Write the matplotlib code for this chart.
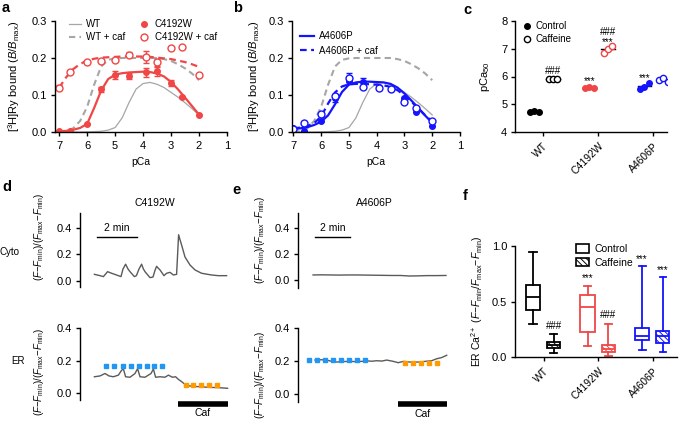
import numpy as np
import matplotlib
matplotlib.use('Agg')
import matplotlib.pyplot as plt
from matplotlib.lines import Line2D
from matplotlib.patches import Patch

plt.rcParams['font.family'] = ['Liberation Sans', 'DejaVu Sans']
plt.rcParams['mathtext.fontset'] = 'custom'
plt.rcParams['mathtext.rm'] = 'Liberation Sans'
plt.rcParams['mathtext.it'] = 'Liberation Sans:italic'
plt.rcParams['mathtext.bf'] = 'Liberation Sans:bold'
plt.rcParams['font.size'] = 7
plt.rcParams['xtick.labelsize'] = 8
plt.rcParams['ytick.labelsize'] = 8
plt.rcParams['axes.linewidth'] = 1.0
plt.rcParams['xtick.major.width'] = 1.0
plt.rcParams['ytick.major.width'] = 1.0
plt.rcParams['xtick.major.size'] = 3
plt.rcParams['ytick.major.size'] = 3
plt.rcParams['xtick.major.pad'] = 3.5
plt.rcParams['ytick.major.pad'] = 2.5
plt.rcParams['hatch.linewidth'] = 0.7

RED = '#f04646'
BLUE = '#1414ff'
GRAY = '#a6a6a6'
TRACE = '#5a5a5a'
SKY = '#2196f3'
ORANGE = '#ff9a00'

# ---- panel a / b : [3H]Ry binding ----
curve_pca = [7, 6.75, 6.5, 6.25, 6, 5.75, 5.5, 5.25, 5, 4.75, 4.5, 4.25, 4,
             3.75, 3.5, 3.25, 3, 2.75, 2.5, 2.25, 2]
wt_fit = [0, 0, 0, 0, 0.0005, 0.001, 0.002, 0.005, 0.012, 0.038, 0.08, 0.116, 0.131,
          0.134, 0.129, 0.12, 0.107, 0.094, 0.079, 0.063, 0.046]
wt_caf_fit = [0.0, 0.003, 0.01, 0.03, 0.068, 0.128, 0.177, 0.195, 0.199, 0.2, 0.2, 0.2,
              0.2, 0.2, 0.2, 0.197, 0.192, 0.183, 0.172, 0.158, 0.14]
c4192w_fit = [0.002, 0.003, 0.006, 0.011, 0.022, 0.065, 0.112, 0.143, 0.155, 0.159, 0.161,
              0.162, 0.163, 0.162, 0.158, 0.15, 0.135, 0.115, 0.093, 0.07, 0.047]
c4192w_caf_fit = [0.12, 0.148, 0.17, 0.184, 0.193, 0.198, 0.201, 0.202, 0.203, 0.204, 0.204,
                  0.204, 0.204, 0.203, 0.201, 0.199, 0.197, 0.193, 0.189, 0.183, 0.176]
a4606p_fit = [0.008, 0.01, 0.013, 0.019, 0.028, 0.045, 0.075, 0.108, 0.128, 0.134, 0.136,
              0.136, 0.135, 0.134, 0.13, 0.12, 0.104, 0.085, 0.065, 0.044, 0.025]
a4606p_caf_fit = [0.01, 0.012, 0.016, 0.024, 0.042, 0.077, 0.107, 0.123, 0.129, 0.13, 0.13,
                  0.129, 0.128, 0.126, 0.122, 0.113, 0.099, 0.082, 0.063, 0.045, 0.028]

pts_pca = [7, 6.6, 6, 5.5, 5, 4.5, 3.9, 3.5, 3, 2.6, 2]
c4192w = [0.002, 0.004, 0.021, 0.115, 0.154, 0.152, 0.161, 0.164, 0.132, 0.095, 0.046]
c4192w_err = [0, 0, 0, 0.007, 0.01, 0.008, 0.012, 0.012, 0.008, 0.003, 0]
c4192w_caf = [0.12, 0.162, 0.19, 0.191, 0.194, 0.209, 0.203, 0.188, 0.228, 0.231, 0.155]
c4192w_caf_err = [0.006, 0, 0, 0, 0, 0.006, 0.016, 0.01, 0, 0, 0]
a4606p = [0.01, 0.003, 0.03, 0.092, 0.137, 0.135, 0.122, 0.117, 0.091, 0.053, 0.017]
a4606p_err = [0, 0, 0, 0.01, 0.007, 0.01, 0, 0, 0, 0, 0]
a4606p_caf = [0.009, 0.023, 0.048, 0.098, 0.147, 0.122, 0.12, 0.116, 0.082, 0.066, 0.029]
a4606p_caf_err = [0, 0, 0, 0, 0.013, 0, 0, 0, 0, 0, 0]

# ---- panel c : pCa50 ----
groups = ['WT', 'C4192W', 'A4606P']
pca50_ctrl = [[4.72, 4.74, 4.73], [5.60, 5.61, 5.60], [5.55, 5.62, 5.76]]
pca50_caf = [[5.90, 5.92, 5.91], [6.86, 7.00, 7.11], [5.88, 5.95, 5.80]]
group_colors = ['black', RED, BLUE]

# ---- panel d / e : traces (time in min) ----
d_cyto_t = [0.07, 0.35, 0.52, 0.73, 0.93, 1.27, 1.4, 1.5, 1.63, 1.75, 1.85, 2.07, 2.17, 2.3,
            2.43, 2.52, 2.6, 2.85, 3.0, 3.1, 3.18, 3.27, 3.35, 3.55, 3.68, 3.85, 4.02, 4.18,
            4.28, 4.35, 4.43, 4.6, 4.85, 5.1, 5.43, 5.93, 6.27, 6.68]
d_cyto = [0.05, 0.04, 0.033, 0.07, 0.058, 0.04, 0.033, 0.09, 0.126, 0.09, 0.07, 0.033, 0.04,
          0.09, 0.126, 0.09, 0.07, 0.025, 0.03, 0.08, 0.11, 0.095, 0.083, 0.04, 0.058, 0.065,
          0.045, 0.05, 0.347, 0.31, 0.27, 0.18, 0.12, 0.083, 0.058, 0.045, 0.04, 0.04]
d_er_t = [0.07, 0.35, 0.6, 0.8, 1.02, 1.27, 1.43, 1.52, 1.63, 1.85, 2.1, 2.23, 2.35, 2.6,
          2.9, 3.02, 3.13, 3.35, 3.6, 3.77, 3.97, 4.13, 4.27, 4.43, 4.6, 4.85, 5.27, 5.77,
          6.27, 6.73]
d_er = [0.10, 0.105, 0.12, 0.105, 0.10, 0.11, 0.14, 0.148, 0.10, 0.097, 0.12, 0.15, 0.10,
        0.097, 0.12, 0.148, 0.097, 0.10, 0.097, 0.11, 0.097, 0.10, 0.084, 0.07, 0.053, 0.043,
        0.039, 0.035, 0.033, 0.029]
d_ctrl_t = [0.65, 1.07, 1.49, 1.9, 2.3, 2.69, 3.07, 3.47]
d_ctrl_level = 0.167
d_caf_t = [4.64, 5.02, 5.4, 5.8, 6.2]
d_caf_level = 0.05
d_caf_on = (4.25, 6.75)

e_cyto_t = [0.0, 0.5, 1.0, 1.5, 2.0, 2.5, 3.0, 3.5, 4.0, 4.5, 5.0, 5.5, 6.0, 6.5, 7.0, 7.6]
e_cyto = [0.04, 0.041, 0.04, 0.039, 0.04, 0.04, 0.039, 0.038, 0.037, 0.036, 0.036, 0.032,
          0.033, 0.035, 0.035, 0.036]
e_er_t = [0.11, 0.46, 0.78, 1.03, 1.35, 1.71, 2.11, 2.57, 3.07, 3.37, 3.64, 3.94, 4.21, 4.59,
          4.87, 5.16, 5.54, 6.02, 6.4, 6.78, 7.07, 7.35, 7.64]
e_er = [0.205, 0.207, 0.205, 0.198, 0.193, 0.196, 0.197, 0.195, 0.2, 0.198, 0.201, 0.199,
        0.205, 0.197, 0.189, 0.197, 0.193, 0.193, 0.197, 0.201, 0.213, 0.22, 0.234]
e_ctrl_t = [-0.21, 0.25, 0.7, 1.16, 1.62, 2.07, 2.53, 2.97]
e_ctrl_level = 0.205
e_caf_t = [5.26, 5.73, 6.15, 6.63, 7.07]
e_caf_level = 0.189
e_caf_on = (4.86, 7.66)

# ---- panel f : ER Ca2+ box plots (whislo, q1, med, q3, whishi) ----
box_ctrl = [[0.30, 0.425, 0.545, 0.65, 0.95],
            [0.096, 0.225, 0.45, 0.56, 0.64],
            [0.066, 0.155, 0.19, 0.26, 0.82]]
box_caf = [[0.036, 0.08, 0.11, 0.135, 0.21],
           [0.012, 0.045, 0.072, 0.105, 0.30],
           [0.045, 0.13, 0.185, 0.23, 0.72]]

W, H = 685, 422
fig = plt.figure(figsize=(W / 100, H / 100), dpi=100)


def px_axes(l, t, r, b):
    return fig.add_axes([l / W, 1 - b / H, (r - l) / W, (b - t) / H])


def clean(ax, bottom=True):
    ax.spines['top'].set_visible(False)
    ax.spines['right'].set_visible(False)
    if not bottom:
        ax.spines['bottom'].set_visible(False)
        ax.set_xticks([])


ry_label = r'[$^3$H]Ry bound ($B$/$B_{\mathrm{max}}$)'

# panel a
ax = px_axes(55, 21, 227, 132)
clean(ax)
ax.plot(curve_pca, wt_fit, color=GRAY, lw=0.9)
ax.plot(curve_pca, wt_caf_fit, color=GRAY, lw=1.5, ls=(0, (3, 2)))
ax.plot(curve_pca, c4192w_fit, color=RED, lw=1.6)
ax.plot(curve_pca, c4192w_caf_fit, color=RED, lw=1.6, ls=(0, (3, 2)))
ax.errorbar(pts_pca, c4192w, yerr=c4192w_err, fmt='o', color=RED, ms=4, capsize=2.2,
            elinewidth=1, capthick=1)
ax.errorbar(pts_pca, c4192w_caf, yerr=c4192w_caf_err, fmt='o', mfc='white', mec=RED,
            mew=1, color=RED, ms=5, capsize=2.2, elinewidth=1, capthick=1)
ax.set_xlim(7.15, 1)
ax.set_ylim(0, 0.3)
ax.set_xticks([7, 6, 5, 4, 3, 2, 1])
ax.set_yticks([0, 0.1, 0.2, 0.3])
ax.set_yticklabels(['0.0', '0.1', '0.2', '0.3'])
ax.set_xlabel('pCa', labelpad=4, fontsize=7.5)
ax.set_ylabel(ry_label, fontsize=8)
ax.yaxis.set_label_coords(-0.19, 0.5)
hs = [Line2D([], [], color=GRAY, lw=0.9),
      Line2D([], [], color=GRAY, lw=1.5, ls=(0, (3, 2))),
      Line2D([], [], color=RED, marker='o', ls='none', ms=4),
      Line2D([], [], color=RED, marker='o', ls='none', ms=5, mfc='white')]
ax.legend(hs, ['WT', 'WT + caf', 'C4192W', 'C4192W + caf'], ncol=2, frameon=False,
          loc='upper left', bbox_to_anchor=(0.04, 1.08), handlelength=1.3,
          handletextpad=0.45, columnspacing=1.3, labelspacing=0.35, borderpad=0.2)

# panel b
ax = px_axes(292, 21, 460, 132)
clean(ax)
ax.plot(curve_pca, wt_fit, color=GRAY, lw=0.9)
ax.plot(curve_pca, wt_caf_fit, color=GRAY, lw=1.5, ls=(0, (3, 2)))
ax.plot(curve_pca, a4606p_fit, color=BLUE, lw=1.6)
ax.plot(curve_pca, a4606p_caf_fit, color=BLUE, lw=1.6, ls=(0, (3, 2)))
ax.errorbar(pts_pca, a4606p, yerr=a4606p_err, fmt='o', color=BLUE, ms=4, capsize=2.2,
            elinewidth=1, capthick=1)
ax.errorbar(pts_pca, a4606p_caf, yerr=a4606p_caf_err, fmt='o', mfc='white', mec=BLUE,
            mew=1, color=BLUE, ms=5, capsize=2.2, elinewidth=1, capthick=1)
ax.set_xlim(7.05, 1)
ax.set_ylim(0, 0.3)
ax.set_xticks([7, 6, 5, 4, 3, 2, 1])
ax.set_yticks([0, 0.1, 0.2, 0.3])
ax.set_yticklabels(['0.0', '0.1', '0.2', '0.3'])
ax.set_xlabel('pCa', labelpad=4, fontsize=7.5)
ax.set_ylabel(ry_label, fontsize=8)
ax.yaxis.set_label_coords(-0.18, 0.5)
hs = [Line2D([], [], color=BLUE, lw=1.6),
      Line2D([], [], color=BLUE, lw=1.6, ls=(0, (3, 2)))]
ax.legend(hs, ['A4606P', 'A4606P + caf'], frameon=False, loc='upper left',
          bbox_to_anchor=(0.01, 0.97), handlelength=1.4, handletextpad=0.5,
          labelspacing=0.45, borderpad=0.2)

# panel c
ax = px_axes(515, 21, 667, 132)
clean(ax)
jit = [-0.08, 0.0, 0.08]
for i, g in enumerate(groups):
    col = group_colors[i]
    xc = i - 0.16
    xf = i + 0.18
    ax.plot([xc + j for j in jit], pca50_ctrl[i], 'o', color=col, ms=4, zorder=3)
    ax.plot([xf + j for j in jit], pca50_caf[i], 'o', mfc='white', mec=col, mew=1,
            ms=4.5, zorder=3)
    ax.plot([xc - 0.12, xc + 0.12], [np.mean(pca50_ctrl[i])] * 2, color='black', lw=1, zorder=2)
    ax.plot([xf - 0.12, xf + 0.12], [np.mean(pca50_caf[i])] * 2, color='black', lw=1, zorder=2)
ax.text(0.18, 6.2, '###', ha='center', va='center', fontsize=7)
ax.text(0.84, 5.82, '***', ha='center', va='center', fontsize=7)
ax.text(1.18, 7.24, '***', ha='center', va='center', fontsize=7)
ax.text(1.18, 7.62, '###', ha='center', va='center', fontsize=7)
ax.text(1.84, 5.96, '***', ha='center', va='center', fontsize=7)
ax.set_xlim(-0.51, 2.25)
ax.set_ylim(4, 8)
ax.set_yticks([4, 5, 6, 7, 8])
ax.set_xticks(range(3))
ax.set_xticklabels(groups, rotation=45, ha='right', rotation_mode='anchor', fontsize=7.5)
ax.set_ylabel(r'pCa$_{50}$', fontsize=8)
ax.yaxis.set_label_coords(-0.15, 0.5)
hs = [Line2D([], [], marker='o', color='black', ls='none', ms=4),
      Line2D([], [], marker='o', mfc='white', mec='black', ls='none', ms=4.5)]
ax.legend(hs, ['Control', 'Caffeine'], frameon=False, loc='upper left',
          bbox_to_anchor=(0.0, 1.06), handlelength=1.0, handletextpad=0.4,
          labelspacing=0.3, borderpad=0.2)

# panels d / e
ylab = r'$(F{-}F_{\mathrm{min}})/(F_{\mathrm{max}}{-}F_{\mathrm{min}})$'


def trace_panel(x0, x1, cyto_box, er_box, xlim, cyto_ylim, er_ylim, cyto_t, cyto, er_t, er,
                ctrl_t, ctrl_lv, caf_t, caf_lv, caf_on, bar_t, title):
    ac = px_axes(x0, cyto_box[0], x1, cyto_box[1])
    clean(ac, bottom=False)
    ac.plot(cyto_t, cyto, color=TRACE, lw=1)
    ac.plot(bar_t, [0.33, 0.33], color='black', lw=1)
    ac.text(np.mean(bar_t), 0.36, '2 min', ha='center', va='bottom', fontsize=7.5)
    ac.set_xlim(*xlim)
    ac.set_ylim(*cyto_ylim)
    ac.set_yticks([0, 0.2, 0.4])
    ac.set_yticklabels(['0.0', '0.2', '0.4'])
    ac.set_title(title, fontsize=7.5, pad=5)
    ae = px_axes(x0, er_box[0], x1, er_box[1])
    clean(ae, bottom=False)
    ae.plot(er_t, er, color=TRACE, lw=1, zorder=2)
    ae.plot(ctrl_t, [ctrl_lv] * len(ctrl_t), 's', color=SKY, ms=2.8, zorder=3)
    ae.plot(caf_t, [caf_lv] * len(caf_t), 's', color=ORANGE, ms=2.8, zorder=3)
    ae.plot(caf_on, [-0.065, -0.065], color='black', lw=4, clip_on=False,
            solid_capstyle='butt')
    ae.text(np.mean(caf_on), -0.09, 'Caf', ha='center', va='top', fontsize=7.5)
    ae.set_xlim(*xlim)
    ae.set_ylim(*er_ylim)
    ae.set_yticks([0, 0.2, 0.4])
    ae.set_yticklabels(['0.0', '0.2', '0.4'])
    return ac, ae


ac, ae = trace_panel(80, 230, (213, 287), (328, 400), (-0.65, 6.85), (-0.045, 0.51),
                     (-0.043, 0.4), d_cyto_t, d_cyto, d_er_t, d_er, d_ctrl_t, d_ctrl_level,
                     d_caf_t, d_caf_level, d_caf_on, (0.2, 2.2), 'C4192W')
fig.text(39 / W, 1 - 237 / H, ylab, rotation=90, ha='center', va='center', fontsize=7)
fig.text(39 / W, 1 - 372 / H, ylab, rotation=90, ha='center', va='center', fontsize=7)
fig.text(0 / W, 1 - 252 / H, 'Cyto', ha='left', va='center', fontsize=7)
fig.text(18 / W, 1 - 361 / H, 'ER', ha='center', va='center', fontsize=7)

ac, ae = trace_panel(298, 450, (213, 288), (328, 402), (-0.86, 7.83), (-0.06, 0.515),
                     (-0.05, 0.4), e_cyto_t, e_cyto, e_er_t, e_er, e_ctrl_t, e_ctrl_level,
                     e_caf_t, e_caf_level, e_caf_on, (0.11, 2.11), 'A4606P')
fig.text(260 / W, 1 - 240 / H, ylab, rotation=90, ha='center', va='center', fontsize=7)
fig.text(260 / W, 1 - 375 / H, ylab, rotation=90, ha='center', va='center', fontsize=7)

# panel f
ax = px_axes(515, 246, 677, 357)
clean(ax)


def stats(v):
    return dict(whislo=v[0], q1=v[1], med=v[2], q3=v[3], whishi=v[4], fliers=[])


for i in range(3):
    col = group_colors[i]
    kw = dict(showfliers=False, patch_artist=True,
              boxprops=dict(edgecolor=col, facecolor='white', lw=1.3),
              medianprops=dict(color=col, lw=1.3),
              whiskerprops=dict(color=col, lw=1.3),
              capprops=dict(color=col, lw=1.3))
    ax.bxp([stats(box_ctrl[i])], positions=[i - 0.2], widths=[0.27], capwidths=[0.13], **kw)
    b = ax.bxp([stats(box_caf[i])], positions=[i + 0.18], widths=[0.24], capwidths=[0.12], **kw)
    for p in b['boxes']:
        p.set_hatch('\\\\\\\\\\\\')
ax.text(0.18, 0.28, '###', ha='center', va='center', fontsize=7)
ax.text(0.8, 0.71, '***', ha='center', va='center', fontsize=7)
ax.text(1.18, 0.38, '###', ha='center', va='center', fontsize=7)
ax.text(1.8, 0.88, '***', ha='center', va='center', fontsize=7)
ax.text(2.18, 0.78, '***', ha='center', va='center', fontsize=7)
ax.set_xlim(-0.53, 2.44)
ax.set_ylim(0, 1.0)
ax.set_yticks([0, 0.5, 1.0])
ax.set_yticklabels(['0.0', '0.5', '1.0'])
ax.set_xticks(range(3))
ax.set_xticklabels(groups, rotation=45, ha='right', rotation_mode='anchor', fontsize=7.5)
ax.set_ylabel(r'ER Ca$^{2+}$ ($F{-}F_{\mathrm{min}}$/$F_{\mathrm{max}}{-}F_{\mathrm{min}}$)',
              fontsize=7.5)
ax.yaxis.set_label_coords(-0.185, 0.5)
hs = [Patch(facecolor='white', edgecolor='black', lw=1.2),
      Patch(facecolor='white', edgecolor='black', lw=1.2, hatch='\\\\\\\\\\\\')]
ax.legend(hs, ['Control', 'Caffeine'], frameon=False, loc='upper left',
          bbox_to_anchor=(0.33, 1.08), handlelength=1.3, handleheight=0.9,
          handletextpad=0.5, labelspacing=0.3, borderpad=0.2, fontsize=7.5)

for lab, x, y in [('a', 2, 8), ('b', 233, 8), ('c', 463, 10), ('d', 2, 187),
                  ('e', 232, 190), ('f', 463, 196)]:
    fig.text(x / W, 1 - y / H, lab, fontsize=10.5, fontweight='bold', ha='left', va='center')

fig.savefig('out.png', dpi=100)
